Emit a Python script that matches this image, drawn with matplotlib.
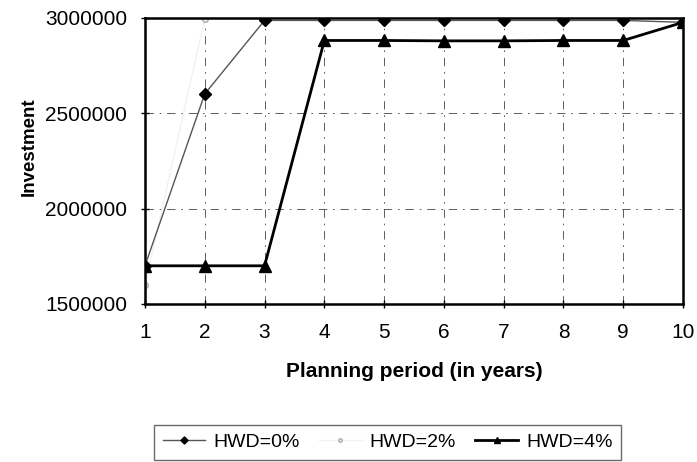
import matplotlib.pyplot as plt
from matplotlib.ticker import FuncFormatter

plt.rcParams['font.family'] = ['Liberation Sans', 'DejaVu Sans']

# data
years = [1, 2, 3, 4, 5, 6, 7, 8, 9, 10]
hwd_0 = [1700000, 2600000, 2985000, 2985000, 2985000, 2985000, 2985000, 2985000, 2985000, 2975000]
hwd_2 = [1600000, 2995000, 3000000, 3000000, 3000000, 3000000, 3000000, 3000000, 3000000, 3000000]
hwd_4 = [1700000, 1700000, 1700000, 2880000, 2880000, 2878000, 2878000, 2880000, 2880000, 2975000]
y_ticks = [1500000, 2000000, 2500000, 3000000]

fig = plt.figure(figsize=(6.97, 4.62), dpi=100)
ax = fig.add_axes([0.208, 0.342, 0.772, 0.62])

ax.plot(years, hwd_2, color='#f2f2f2', linewidth=1, marker='o', markersize=4,
        markerfacecolor='#f4f4f4', markeredgecolor='#aaaaaa', label='HWD=2%', zorder=2)
ax.plot(years, hwd_0, color='#555555', linewidth=1, marker='D', markersize=6,
        markerfacecolor='black', markeredgecolor='black', label='HWD=0%', zorder=3)
ax.plot(years, hwd_4, color='black', linewidth=2, marker='^', markersize=8,
        markerfacecolor='black', markeredgecolor='black', label='HWD=4%', zorder=4)

ax.set_xlim(1, 10)
ax.set_ylim(1500000, 3000000)
ax.set_xticks(years)
ax.set_yticks(y_ticks)
ax.yaxis.set_major_formatter(FuncFormatter(lambda v, p: '%d' % v))
ax.tick_params(direction='inout', length=6, labelsize=15, width=1)
ax.tick_params(axis='x', pad=11)
ax.tick_params(axis='y', pad=10)
ax.grid(True, color='#444444', linestyle=(0, (10, 7, 2, 7)), linewidth=0.6)

for side in ['left', 'right', 'top', 'bottom']:
    ax.spines[side].set_linewidth(1.8)

ax.set_xlabel('Planning period (in years)', fontsize=15, fontweight='bold', labelpad=14)
ax.set_ylabel('Investment', fontsize=13.5, fontweight='bold', labelpad=8)
ax.yaxis.set_label_coords(-0.2, 0.55)

handles, labels = ax.get_legend_handles_labels()
order = [1, 0, 2]
leg = fig.legend([handles[i] for i in order], [labels[i] for i in order],
                 loc='center', bbox_to_anchor=(0.556, 0.043), ncol=3, fontsize=14,
                 frameon=True, fancybox=False, edgecolor='#444444',
                 handlelength=2.2, handletextpad=0.4, columnspacing=1.0,
                 borderpad=0.45, markerscale=0.6)
leg.get_frame().set_linewidth(1)

fig.savefig('out.png', dpi=100)
